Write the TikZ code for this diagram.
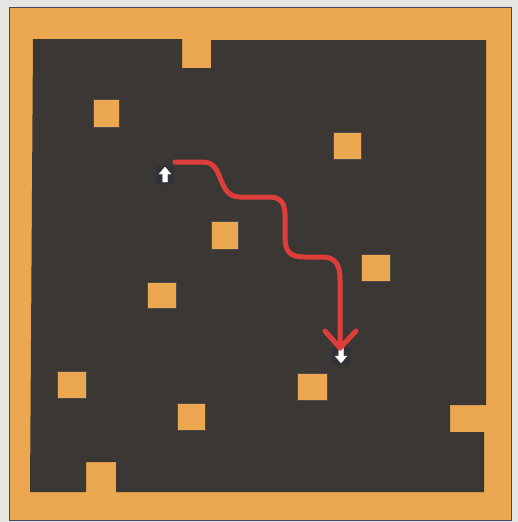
\documentclass[tikz,border=0pt]{standalone}
\begin{document}
\begin{tikzpicture}[x=1pt,y=-1pt,
  paper/.style={fill=paperc},
  frame/.style={fill=orangec,draw=framec,line width=0.8pt},
  floor/.style={fill=darkc},
  block/.style={fill=orangec,draw=black!70,line width=0.4pt},
  halo/.style={fill=haloc,rounded corners=3pt},
  marker/.style={fill=white,draw=white!85!gray,line width=0.3pt},
  route/.style={draw=redc,line width=5pt,line join=round,line cap=round}
]
\definecolor{paperc}{RGB}{228,230,226}
\definecolor{orangec}{RGB}{236,168,80}
\definecolor{framec}{RGB}{70,70,100}
\definecolor{darkc}{RGB}{58,55,52}
\definecolor{haloc}{RGB}{50,49,54}
\definecolor{redc}{RGB}{222,62,58}
\useasboundingbox (0,0) rectangle (518,522);
\fill[paper] (0,0) rectangle (518,522);
% outer orange frame
\draw[frame] (9,7) rectangle (511,520);
% dark floor with notches
\fill[floor] (33,39) -- (182,39) -- (182,68) -- (211,68) -- (211,40) -- (486,40)
  -- (486,405) -- (450,405) -- (450,432) -- (484,432) -- (484,492)
  -- (116,492) -- (116,462) -- (86,462) -- (86,492) -- (30,492) -- cycle;
% orange blocks
\draw[block] (93,99) rectangle (119,127);
\draw[block] (333,132) rectangle (361,159);
\draw[block] (211,221) rectangle (238,249);
\draw[block] (361,254) rectangle (390,281);
\draw[block] (147,282) rectangle (176,308);
\draw[block] (57,371) rectangle (86,398);
\draw[block] (297,373) rectangle (327,400);
\draw[block] (177,403) rectangle (205,430);
% start marker (up arrow)
\node[halo,minimum width=18pt,minimum height=18pt,inner sep=0pt] (start) at (165,175) {};
\fill[marker] (165,167) -- (171,174) -- (167.5,174) -- (167.5,182) -- (162.5,182) -- (162.5,174) -- (159,174) -- cycle;
% end marker (down arrow)
\node[halo,minimum width=18pt,minimum height=18pt,inner sep=0pt] (goal) at (341,356) {};
\fill[marker] (341,363) -- (347,356) -- (343.5,356) -- (343.5,348) -- (338.5,348) -- (338.5,356) -- (335,356) -- cycle;
% route
\coordinate (r0) at (175,162);
\coordinate (tip) at (340,348);
\draw[route] (r0) -- (203,162) .. controls (225,162) and (216,197) .. (240,197)
  -- (268,197) .. controls (287,197) and (285,210) .. (285,225)
  -- (285,237) .. controls (285,252) and (290,257) .. (305,257)
  -- (322,257) .. controls (336,257) and (340,265) .. (340,280) -- (tip);
\draw[route] (325,331) -- (tip) -- (356,331);
\end{tikzpicture}
\end{document}
